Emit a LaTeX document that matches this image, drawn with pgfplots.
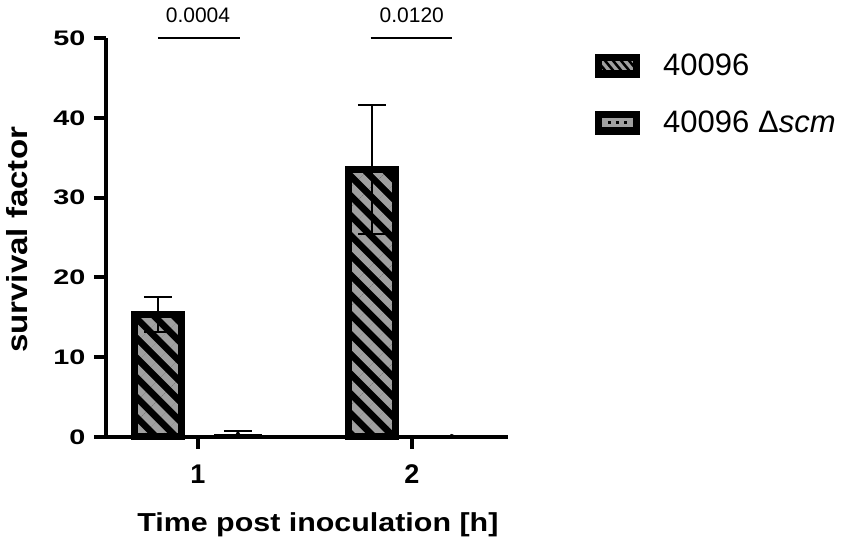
\documentclass[border=0pt]{standalone}
\usepackage{fontspec}
\setmainfont{Liberation Sans}
\newfontfamily\tickfont{Liberation Sans}[FakeStretch=1.37]
\newfontfamily\ylabfont{Liberation Sans}[FakeStretch=1.14]
\usepackage{pgfplots}
\pgfplotsset{compat=1.18}
\usetikzlibrary{patterns.meta}
\definecolor{stripe}{RGB}{160,160,160}
\begin{document}
\begin{tikzpicture}
\useasboundingbox (-106pt,-111pt) rectangle (745pt,437pt);
\begin{axis}[
  at={(0pt,0pt)}, anchor=south west,
  scale only axis, width=402pt, height=399pt,
  xmin=0.57, xmax=2.45, ymin=0, ymax=50,
  axis x line*=bottom, axis y line*=left,
  axis line style={line width=4pt, black},
  xtick={1,2}, ytick={0,10,20,30,40,50},
  tick align=outside,
  major tick length=12pt,
  tick style={line width=4pt, black},
  /pgf/number format/assume math mode=true,
  yticklabel style={font=\tickfont\bfseries\fontsize{21}{21}\selectfont, anchor=east, xshift=-5pt},
  xticklabel style={font=\bfseries\fontsize{27}{27}\selectfont, yshift=-12pt},
  xlabel={Time post inoculation [h]},
  ylabel={survival factor},
  xlabel style={font=\bfseries\fontsize{26}{30}\selectfont, xscale=1.17,
    at={(axis description cs:0.527,-0.238)}, anchor=base},
  ylabel style={font=\ylabfont\bfseries\fontsize{29}{34}\selectfont,
    at={(axis description cs:-0.1965,0.494)}, anchor=base},
  clip=false,
  legend style={at={(1.2165,0.965)}, anchor=north west, draw=none, fill=none,
    inner sep=0pt, font=\fontsize{31}{36}\selectfont, row sep=30pt,
    /tikz/every odd column/.append style={column sep=21pt}},
  legend cell align=left,
]
\addplot[ybar, bar width=47pt, bar shift=-40pt, draw=black, line width=7pt,
  preaction={fill=black},
  pattern={Lines[angle=-45,distance=14pt,line width=7pt]}, pattern color=stripe,
  forget plot]
  coordinates {(1,15.3) (2,33.5)};
\addplot[ybar, bar width=47pt, bar shift=40pt, fill=black, draw=black, line width=1pt,
  forget plot]
  coordinates {(1,0.35) (2,0.1)};
% legend
\addlegendimage{black, legend image code/.code={
    \path[fill=black, draw=none] (0pt,-12pt) rectangle (45pt,12pt);
    \begin{scope}
      \clip (7pt,-4.5pt) rectangle (38pt,4.5pt);
      \path[fill=stripe, draw=none] (7pt,-4.5pt) rectangle (38pt,4.5pt);
      \foreach \i in {0,...,5} {
        \draw[black, line width=2.5pt] ({1pt+\i*8pt},6pt) -- ({11pt+\i*8pt},-6pt);
      }
    \end{scope}
  }}
\addlegendentry{40096}
\addlegendimage{black, legend image code/.code={
    \path[fill=black, draw=none] (0pt,-12pt) rectangle (45pt,12pt);
    \path[fill=stripe, draw=none] (7pt,-4.5pt) rectangle (38pt,4.5pt);
    \path[fill=black, draw=none] (13pt,-1.5pt) rectangle (16pt,1.5pt);
    \path[fill=black, draw=none] (21pt,-1.5pt) rectangle (24pt,1.5pt);
    \path[fill=black, draw=none] (29pt,-1.5pt) rectangle (32pt,1.5pt);
  }}
\addlegendentry{40096 Δ\textit{scm}}
% error bars (positioned at the bar centres)
\addplot[forget plot, only marks, mark=none, black,
  error bars/.cd, y dir=both, y explicit,
  error bar style={line width=2pt, black},
  error mark options={rotate=90, black, mark size=14pt, line width=2pt}]
  coordinates {(0.813,15.3) +- (0,2.2) (1.813,33.5) +- (0,8.1)
               (1.187,0.35) +- (0,0.4) (2.187,0.1) +- (0,0.05)};
% significance brackets
\addplot[line width=2.5pt, black, forget plot] coordinates {(0.813,50) (1.196,50)};
\addplot[line width=2.5pt, black, forget plot] coordinates {(1.808,50) (2.19,50)};
\node[font=\fontsize{21}{21}\selectfont] at (axis cs:1,52.9) {0.0004};
\node[font=\fontsize{21}{21}\selectfont] at (axis cs:2,52.9) {0.0120};
\end{axis}
\end{tikzpicture}
\end{document}
